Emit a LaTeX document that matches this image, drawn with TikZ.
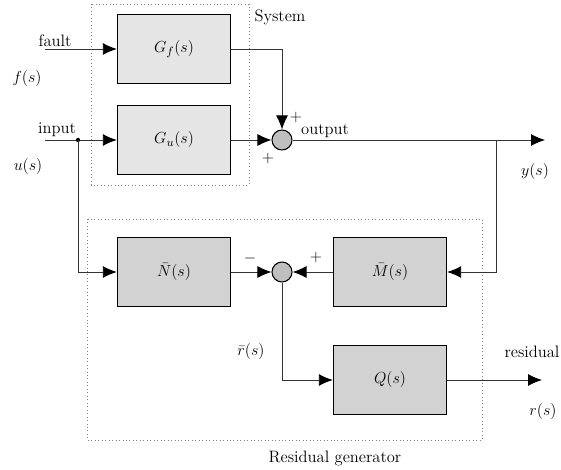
\documentclass[tikz,border=0pt]{standalone}
\usetikzlibrary{arrows.meta,positioning}
\tikzset{
  every node/.style={font=\fontsize{12.4}{15}\selectfont},
  sysblock/.style={draw, fill=gray!20, line width=0.8pt, minimum width=85pt, minimum height=52pt},
  resblock/.style={sysblock, fill=gray!35},
  sumnode/.style={circle, draw, fill=gray!50, line width=0.8pt, minimum size=15pt, inner sep=0pt},
  sig/.style={line width=0.7pt, draw=black!80, -{Latex[length=10.5pt,width=9pt,black]}},
  frame/.style={draw=gray, dotted, line width=0.6pt},
  lbl/.style={inner sep=0pt}
}
\begin{document}
\begin{tikzpicture}[x=0.75pt, y=-0.75pt]
    \useasboundingbox (0,0) rectangle (561,470);
    % frames
    \draw[frame] (91,4) rectangle (249,185);
    \draw[frame] (87,219) rectangle (482,440);
    \node[lbl] (systxt) at (280,17) {System};
    \node[lbl] (restxt) at (335,458) {Residual generator};
    % blocks
    \node[sysblock] (Gf) at (174,49) {$G_f(s)$};
    \node[sysblock] (Gu) at (174,140) {$G_u(s)$};
    \node[resblock] (N) at (174,272) {$\bar{N}(s)$};
    \node[resblock] (M) at (390,272) {$\bar{M}(s)$};
    \node[resblock] (Q) at (390,380) {$Q(s)$};
    \node[sumnode] (sum1) at (282,140) {};
    \node[sumnode] (sum2) at (282,272) {};
    % free ends
    \coordinate (fin) at (45,49);
    \coordinate (uin) at (45,140);
    \coordinate (ujoin) at (78,140);
    \coordinate (ybranch) at (496,140);
    \coordinate (yout) at (545,140);
    \coordinate (rout) at (542,380);
    % connectors
    \draw[sig] (fin) -- (Gf.west);
    \draw[sig] (uin) -- (Gu.west);
    \fill (ujoin) circle (1.6pt);
    \draw[sig] (ujoin) |- (N.west);
    \draw[sig] (Gf.east) -| (sum1.north);
    \draw[sig] (Gu.east) -- (sum1.west);
    \draw[sig] (sum1.east) -- (yout);
    \draw[sig] (ybranch) |- (M.east);
    \draw[sig] (M.west) -- (sum2.east);
    \draw[sig] (N.east) -- (sum2.west);
    \draw[sig] (sum2.south) |- (Q.west);
    \draw[sig] (Q.east) -- (rout);
    % labels
    \node[lbl] (faulttxt) at (55,41) {fault};
    \node[lbl] (ftxt) at (27,79) {$f(s)$};
    \node[lbl] (inputtxt) at (57,130) {input};
    \node[lbl] (utxt) at (28,167) {$u(s)$};
    \node[lbl] (outtxt) at (325,131) {output};
    \node[lbl] (ytxt) at (535,172) {$y(s)$};
    \node[lbl] (plusa) at (296,118) {$+$};
    \node[lbl] (plusb) at (268,159) {$+$};
    \node[lbl] (minus) at (250,259) {$-$};
    \node[lbl] (plusc) at (316,258) {$+$};
    \node[lbl] (rbtxt) at (251,352) {$\bar{r}(s)$};
    \node[lbl] (restxt2) at (532,352) {residual};
    \node[lbl] (rtxt) at (543,412) {$r(s)$};
\end{tikzpicture}
\end{document}
